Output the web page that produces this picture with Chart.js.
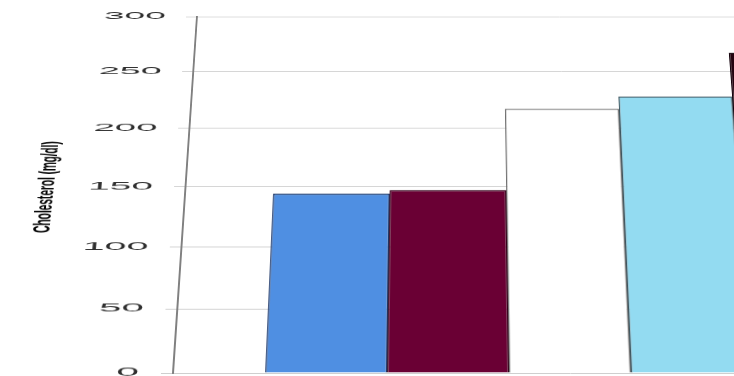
<!DOCTYPE html>
<html>
<head>
<meta charset="utf-8">
<script src="https://cdn.jsdelivr.net/npm/chart.js@4.4.0/dist/chart.umd.min.js"></script>
<style>
  html, body { margin: 0; padding: 0; background: #fff; }
  body { width: 734px; height: 376px; overflow: hidden; }
  /* the sheet is tilted back a little, so the top of the plot recedes */
  #stage { position: relative; width: 734px; height: 376px; overflow: hidden;
           perspective: 1895px; perspective-origin: 446px 373px; }
  #chart { position: absolute; left: 0; top: -64px;
           transform-origin: 446px 437px; transform: rotateX(25deg);
           filter: blur(0.4px); }
</style>
</head>
<body>
<div id="stage"><canvas id="chart" width="967" height="440"></canvas></div>
<script>
const categories = [''];
const groupNames = ['Group 1', 'Group 2', 'Group 3', 'Group 4', 'Group 5'];
const cholesterol = [144, 147, 217, 228, 267];
const yTicks = [0, 50, 100, 150, 200, 250, 300];
const yTitle = 'Cholesterol (mg/dl)';

const fills = ['#4f8fe2', '#6a0034', '#ffffff', '#93dbf1', '#24030f'];
const edges = ['#1d3768', '#35001a', '#6f6f6f', '#3d5660', '#12000a'];

// wide, flat tick numbers and a squeezed bold axis title
const axisText = {
  id: 'axisText',
  afterDraw(chart) {
    const { ctx, chartArea, scales: { y } } = chart;
    ctx.save();
    ctx.fillStyle = '#2e2e2e';
    ctx.font = '12px "Liberation Sans", Arial, sans-serif';
    ctx.textAlign = 'right';
    ctx.textBaseline = 'middle';
    yTicks.forEach(v => {
      ctx.save();
      ctx.translate(chartArea.left - 34, y.getPixelForValue(v));
      ctx.scale(3.4, 1);
      ctx.fillText(String(v), 0, 0);
      ctx.restore();
    });

    ctx.font = 'bold 23px "Liberation Sans", Arial, sans-serif';
    ctx.fillStyle = '#000';
    const w = ctx.measureText(yTitle).width;
    ctx.translate(29, (chartArea.top + chartArea.bottom) / 2);
    ctx.rotate(-Math.PI / 2);
    ctx.scale(111 / w, 1);
    ctx.textAlign = 'center';
    ctx.textBaseline = 'middle';
    ctx.fillText(yTitle, 0, 0);
    ctx.restore();
  }
};

new Chart(document.getElementById('chart'), {
  type: 'bar',
  data: {
    labels: categories,
    datasets: cholesterol.map((v, i) => ({
      label: groupNames[i],
      data: [v],
      backgroundColor: fills[i],
      borderColor: edges[i],
      borderWidth: 1.5,
      barPercentage: 1,
      categoryPercentage: 0.768
    }))
  },
  options: {
    responsive: false,
    animation: false,
    layout: { padding: { left: 161, top: 6, bottom: 3, right: 0 } },
    plugins: { legend: { display: false }, tooltip: { enabled: false } },
    scales: {
      x: { display: false },
      y: {
        min: 0,
        max: 300,
        ticks: { stepSize: 50, display: false },
        grid: { color: '#cdcdcd', lineWidth: 1, tickLength: 12 },
        border: { color: '#808080', width: 2 }
      }
    }
  },
  plugins: [axisText]
});
</script>
</body>
</html>
